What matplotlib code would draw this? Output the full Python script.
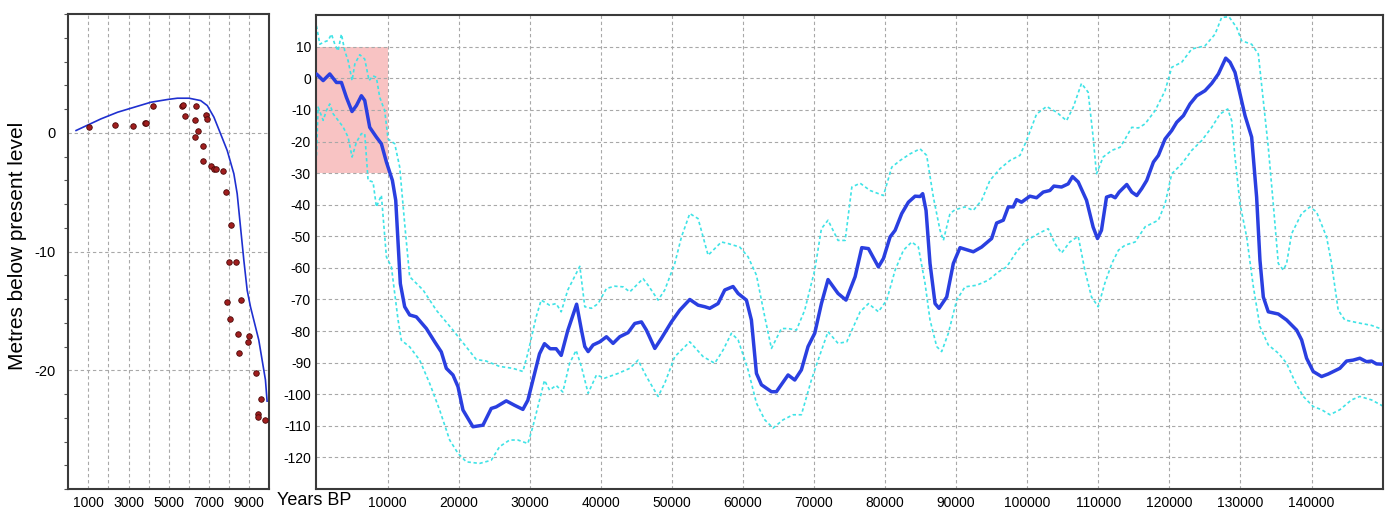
import matplotlib
matplotlib.use("Agg")
import matplotlib.pyplot as plt
from matplotlib.patches import Rectangle
from matplotlib.ticker import MultipleLocator

BLUE = "#2a3fe0"
CYAN = "#3fe3e6"
DOT = "#a01e1e"
GRID = "#a8a8a8"

plt.rcParams["font.family"] = ["Liberation Sans", "DejaVu Sans"]
plt.rcParams["axes.unicode_minus"] = False

# --- left panel: Holocene curve + dated samples (years BP, metres) ---
holo_years = [388, 1628, 2455, 3281, 4107, 4934, 5430, 6008, 6587, 6917, 7248,
              7579, 7909, 8240, 8405, 8570, 8736, 8901, 9066, 9231, 9479, 9645,
              9810, 9893]
holo_level = [0.2, 1.18, 1.74, 2.16, 2.58, 2.81, 2.92, 2.92, 2.72, 2.30, 1.32,
              -0.08, -1.49, -3.45, -5.13, -7.93, -10.73, -13.25, -14.65, -15.77,
              -17.45, -19.13, -20.8, -22.6]

sample_years = [1050, 2339, 3231, 3810, 3843, 4207, 5661, 5711, 5826, 6339, 6322,
                6306, 6471, 6702, 6686, 6835, 6917, 7083, 7248, 7331, 7711, 7843,
                8107, 7909, 7992, 8041, 8322, 8603, 8438, 8471, 8983, 8950, 9331,
                9595, 9463, 9463, 9793]
sample_level = [0.51, 0.70, 0.59, 0.81, 0.84, 2.28, 2.28, 2.33, 1.46, 2.30, 1.07,
                -0.31, 0.17, -1.12, -2.36, 1.54, 1.21, -2.81, -3.01, -3.01, -3.20,
                -4.97, -7.75, -14.21, -10.84, -15.67, -10.84, -14.04, -16.97,
                -18.51, -17.08, -17.64, -20.22, -22.39, -23.65, -23.90, -24.19]

# --- right panel: sea level reconstruction, last 150 ka ---
main_years = [0, 940, 1870, 2810, 3510, 4210, 5000, 5620, 6320, 6790, 7490, 8430,
              9130, 9840, 10680, 11150, 11480, 11800, 12410, 13110, 14050, 15460,
              16630, 17560, 18270, 19200, 19910, 20610, 22010, 23420, 24590, 25290,
              26700, 27870, 29040, 29740, 30440, 31380, 32080, 32880, 33720, 34430,
              35360, 36600, 37280, 37750, 38220, 38920, 39860, 40800, 41730, 42670,
              43840, 44780, 45720, 46420, 47600, 48530, 49940, 51110, 52520, 53690,
              54630, 55330, 56500, 57440, 58610, 59320, 60490, 61190, 61900, 62600,
              64010, 64710, 66350, 67290, 68220, 69160, 70100, 71040, 71970, 73380,
              74500, 75780, 76720, 77660, 79060, 79770, 80700, 81410, 82340, 83280,
              84220, 84920, 85290, 85760, 86320, 87030, 87590, 88670, 89600, 90540,
              91710, 92410, 93580, 94990, 95690, 96630, 97330, 98030, 98500, 99200,
              100370, 101310, 102250, 103180, 103750, 104820, 105760, 106370,
              107170, 108340, 109270, 109880, 110440, 111150, 111800, 112370,
              112930, 114000, 114710, 115410, 116110, 116810, 117750, 118450,
              119390, 120330, 121030, 121970, 122900, 123840, 125010, 125950,
              126890, 127920, 128530, 129230, 129930, 130640, 131570, 132270,
              132740, 133210, 133910, 135320, 136490, 137900, 138600, 139300,
              140230, 141410, 142340, 143980, 144920, 145850, 146790, 147730,
              148430, 149130, 150000]
main_level = [1.4, -0.7, 1.4, -1.3, -1.3, -6, -10.5, -8.6, -5.5, -7, -15.5, -18.6,
              -20.7, -26.5, -32.3, -38.6, -52.3, -65, -72.3, -74.9, -75.5, -79.2,
              -83.4, -86.6, -91.8, -93.9, -97.6, -105, -110.3, -109.8, -104.5, -104,
              -102.1, -103.5, -104.8, -101.9, -95.6, -87.2, -84, -85.6, -85.6, -87.7,
              -79.8, -71.5, -79.7, -84.9, -86.5, -84.4, -83.4, -81.8, -83.9, -81.8,
              -80.5, -77.6, -77.1, -79.7, -85.5, -82.3, -77.1, -73.4, -70, -71.8,
              -72.3, -72.8, -71.3, -67, -65.9, -68.1, -70.2, -76.5, -93.4, -97,
              -99.2, -99.2, -93.9, -95.5, -92.3, -84.9, -80.7, -71.3, -63.7, -68.1,
              -70.2, -62.8, -53.6, -53.9, -59.7, -57, -50.2, -48.1, -42.8, -39.2,
              -37.3, -37.4, -36.5, -41.8, -58.6, -71.3, -72.8, -69.2, -58.6, -53.6,
              -54.4, -54.9, -53.4, -50.7, -45.8, -44.9, -40.7, -40.7, -38.4, -39.2,
              -37.3, -37.8, -36, -35.5, -34.1, -34.4, -33.4, -31.1,
              -32.8, -38.6, -47.1, -50.7, -48.1, -37.6, -37.1, -37.8,
              -36, -33.6, -36, -37.1, -34.9, -32.3, -26.5, -24.4,
              -19.2, -16.5, -13.9, -11.8, -8.1, -5.5, -3.9, -1.6,
              1.4, 6.4, 5.1, 1.9, -4.9, -11.8, -18.6, -37.6,
              -57.6, -69.2, -73.9, -74.6, -76.5, -79.7, -82.8, -88.6,
              -92.8, -94.4, -93.6, -91.8, -89.5, -89.2, -88.6, -89.7,
              -89.5, -90.4, -90.5]

upper_years = [0, 470, 940, 1640, 2110, 2580, 3040, 3510, 3980, 4450, 5010, 5390,
               6090, 6790, 7400, 7960, 8430, 8900, 9600, 10070, 11010, 11710, 12410,
               13110, 15000, 16860, 19200, 21080, 22480, 23890, 25760, 27640, 29040,
               29740, 30910, 31610, 32790, 33720, 34430, 35360, 37050, 37750, 38690,
               39630, 40800, 41970, 43140, 44080, 45950, 46660, 48060, 49000, 50410,
               51350, 52520, 53690, 55100, 56970, 57910, 59550, 60720, 61900, 63070,
               64010, 65410, 66350, 67520, 68690, 70100, 71040, 71970, 73380, 74380,
               75320, 76490, 77890, 79770, 80940, 82110, 83510, 84920, 85850, 86790,
               87730, 88200, 89130, 89840, 91240, 92410, 93580, 94750, 96160, 97560,
               98970, 99900, 101310, 102720, 104120, 105530, 106460, 107630, 108570,
               109270, 109740, 110680, 111900, 113070, 113770, 114710, 115640,
               116580, 117990, 119390, 120330, 121730, 123140, 125010, 126420,
               127350, 128380, 129460, 130160, 131570, 132510, 133210, 133910,
               134610, 135320, 136020, 136490, 137190, 138600, 139770, 140700,
               142110, 142810, 143750, 144680, 146560, 148430, 150000]
upper_level = [16.6, 10.8, 11.4, 12, 14, 10.8, 8.7, 14, 8.7, 5.6, -0.7, 4.5,
               7.5, 6.1, -0.7, 0.8, 0.3, -6, -10.2, -19.2, -20.7, -28.1, -46,
               -62.8, -67, -73.4, -79.7, -85, -89, -89.5, -91.2, -91.8, -92.8,
               -87, -75.5, -70.2, -71.8, -71.3, -73.9, -67, -59.5, -72.3, -72.8,
               -71.3, -66.5, -65.8, -66, -67.6, -63.4, -65.5, -70.2, -67, -58.6,
               -50.2, -42.8, -44.4, -56, -51.8, -52.3, -53.4, -56.5, -62.3, -75.5,
               -85.5, -79.2, -79.2, -79.7, -73.4, -60.7, -47.6, -44.9, -51.3, -51.3,
               -34.4, -33.2, -35.5, -37.1, -28.1, -26, -23.9, -22.3, -24.4, -37.6,
               -48.1, -51.3, -42.8, -41.6, -40.7, -41.8, -38.6, -32.3, -28.6, -26,
               -24.4, -19.7, -11.3, -8.9, -10.7, -13.4, -9.2, -1.6, -4.4,
               -18.6, -30.2, -24.9, -22.8, -21.8, -19.2, -15.5, -15.7,
               -14.4, -10.2, -3.9, 3.5, 5.1, 9.3, 10.3, 14,
               19.3, 19.5, 16.1, 11.9, 10.8, 7.7, -7.1, -21.8,
               -39.7, -58.6, -60.7, -58.6, -49.2, -42.8, -40.7, -42.3,
               -50.2, -58.6, -73.4, -76.5, -77.4, -78.2, -79.5]

lower_years = [0, 230, 940, 1400, 1870, 2340, 3040, 3750, 4450, 5010, 5620, 6320,
               6790, 7260, 7960, 8430, 9130, 9840, 10540, 11480, 11940, 13110, 14520,
               15930, 17330, 18740, 19910, 21080, 22950, 24590, 25760, 27170, 28340,
               29740, 30440, 31380, 32080, 32790, 33720, 34660, 35600, 36530, 37280,
               38220, 39390, 40560, 42440, 44080, 45250, 46420, 48060, 49000, 50410,
               52520, 54400, 56030, 57210, 58380, 59320, 60720, 61900, 63070, 64240,
               65650, 67050, 68220, 69630, 70570, 71970, 73380, 74610, 75550, 76490,
               77660, 79060, 80230, 81410, 82580, 83750, 84680, 85620, 86320, 87260,
               87960, 88900, 90070, 91240, 92880, 94520, 95920, 97100, 98500, 99900,
               101780, 102950, 103890, 104820, 105990, 107170, 108100, 109040,
               109980, 110910, 111900, 112830, 113770, 115180, 116580, 118450,
               119390, 120330, 121730, 123140, 124540, 125950, 127120, 128200,
               128760, 129230, 129930, 130870, 131810, 132740, 133910, 135320,
               136490, 137660, 138830, 140230, 141410, 142580, 143980, 145620,
               146790, 148430, 150000]
lower_level = [-24.4, -9.1, -13.3, -10.2, -8.1, -11.2, -13.3, -15.4, -18.6, -24.9,
               -20.2, -17.5, -17.5, -32.3, -32.8, -40.7, -37, -56.5, -59.7, -76.5,
               -82.9, -85, -89.2, -96.6, -105, -114.5, -118.7, -121.4, -121.9,
               -120.9, -116.6, -114.5, -114.5, -115.6, -110.3, -101.9, -95.6, -98.7,
               -97.2, -99.3, -90.3, -86.1, -91.3, -99.7, -93.9, -94.9, -93.4, -91.8,
               -89.2, -94.4, -100.7, -96.5, -88.1, -83.4, -88.1, -90.2, -86, -80.7,
               -82.8, -92.3, -102.8, -108.1, -110.7, -108.1, -106.5, -106.5, -95.5,
               -89.2, -80.2, -83.9, -83.4, -78.6, -73.9, -71.3, -73.9, -70.2, -60.7,
               -54.4, -51.8, -53.4, -64.9, -76.5, -84.9, -86.5, -80.7, -70.2, -66,
               -65.5, -63.9, -61.3, -59.7, -54.9, -51.3, -48.9, -47.6, -52.3, -55.3,
               -51.8, -50, -60.7, -69.2, -72.3, -64.9, -58.6, -54.4, -52.8, -51.8,
               -47, -44.9, -39.7, -30.2, -27.1, -22.8, -19.7, -15.5, -11.3, -9.7,
               -13.4, -25, -39.7, -50.2, -66, -78.6, -84.4, -87, -90.2, -96, -100.7,
               -103.9, -104.9, -106.5, -104.9, -101.8, -100.7, -101.8, -103.7]

# Plot
fig = plt.figure(figsize=(13.85, 5.15), dpi=100)
ax1 = fig.add_axes([0.0493, 0.0505, 0.1451, 0.922])
ax2 = fig.add_axes([0.2285, 0.0505, 0.7698, 0.920])

grid_kw = dict(color=GRID, linestyle=(0, (3, 2.5)), linewidth=0.8)

# left panel
ax1.set_axisbelow(True)
ax1.plot(holo_years, holo_level, color="#1f30d0", linewidth=1.2,
         solid_joinstyle="round", zorder=2)
ax1.scatter(sample_years, sample_level, s=16, color=DOT, edgecolors="#4a0808",
            linewidths=0.6, zorder=3)
ax1.set_xlim(0, 10000)
ax1.set_ylim(-30, 10)
ax1.set_xticks(range(1000, 10000, 1000))
ax1.set_xticklabels([str(v) if v % 2000 else "" for v in range(1000, 10000, 1000)])
ax1.set_yticks([-20, -10, 0])
ax1.yaxis.set_minor_locator(MultipleLocator(2))
ax1.tick_params(axis="x", length=0, pad=5, labelsize=10)
ax1.tick_params(axis="y", which="major", length=0, pad=9, labelsize=10.5)
ax1.tick_params(axis="y", which="minor", length=3, width=0.8, color="#555555")
ax1.grid(True, **grid_kw)

# right panel
ax2.set_axisbelow(True)
ax2.add_patch(Rectangle((0, -30), 10000, 40, facecolor="#f8c3c3",
                        edgecolor="none", zorder=0.3))
ax2.plot(upper_years, upper_level, color=CYAN, linewidth=1.2,
         linestyle=(0, (2, 1.6)), zorder=2)
ax2.plot(lower_years, lower_level, color=CYAN, linewidth=1.2,
         linestyle=(0, (2, 1.6)), zorder=2)
ax2.plot(main_years, main_level, color=BLUE, linewidth=2.5,
         solid_joinstyle="round", solid_capstyle="round", zorder=3)
ax2.set_xlim(0, 150000)
ax2.set_ylim(-130, 20)
ax2.set_xticks(range(10000, 150000, 10000))
ax2.set_yticks(range(-120, 20, 10))
ax2.tick_params(axis="both", length=0, labelsize=10)
ax2.tick_params(axis="x", pad=5)
ax2.tick_params(axis="y", pad=4)
ax2.grid(True, **grid_kw)

for ax in (ax1, ax2):
    for sp in ax.spines.values():
        sp.set_color("#3a3a3a")
        sp.set_linewidth(1.5)

fig.text(18 / 1385, 0.522, "Metres below present level", rotation=90,
         ha="center", va="center", fontsize=15)
fig.text(277 / 1385, 0.029, "Years BP", ha="left", va="center", fontsize=13)

fig.savefig("out.png", dpi=100)
